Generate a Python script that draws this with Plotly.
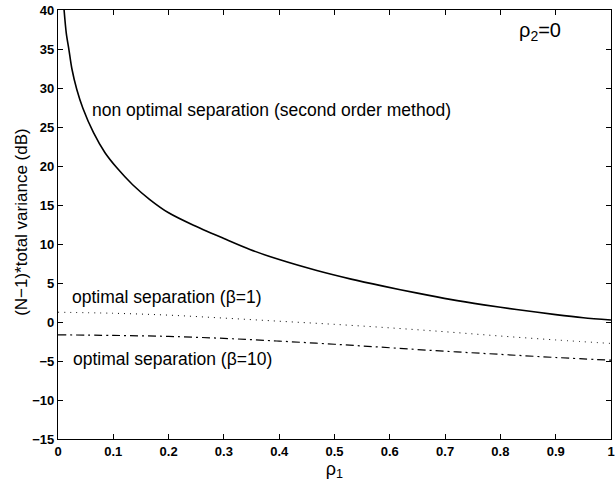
import plotly.graph_objects as go

# Data
rho1_nonopt = [0.011, 0.015, 0.02, 0.025, 0.034, 0.045, 0.064, 0.085, 0.106, 0.135,
               0.166, 0.2, 0.245, 0.3, 0.347, 0.4, 0.468, 0.53, 0.588, 0.65,
               0.709, 0.77, 0.829, 0.9, 0.95, 1.0]
var_nonopt = [40, 37.0, 34.8, 32.5, 29.8, 27.4, 24.3, 21.7, 19.8, 17.6,
              15.7, 14.0, 12.4, 10.7, 9.3, 8.0, 6.6, 5.5, 4.6, 3.7,
              2.9, 2.2, 1.6, 0.95, 0.55, 0.25]

rho1_opt = [0, 0.1, 0.2, 0.3, 0.4, 0.5, 0.6, 0.7, 0.8, 0.9, 1.0]
var_beta1 = [1.25, 1.12, 0.88, 0.5, 0.1, -0.3, -0.75, -1.25, -1.8, -2.3, -2.75]
var_beta10 = [-1.65, -1.72, -1.85, -2.1, -2.45, -2.85, -3.3, -3.75, -4.15, -4.55, -4.9]

x_ticks = [0, 0.1, 0.2, 0.3, 0.4, 0.5, 0.6, 0.7, 0.8, 0.9, 1]
x_ticklabels = ["0", "0.1", "0.2", "0.3", "0.4", "0.5", "0.6", "0.7", "0.8", "0.9", "1"]
y_ticks = [40, 35, 30, 25, 20, 15, 10, 5, 0, -5, -10, -15]
y_ticklabels = ["40", "35", "30", "25", "20", "15", "10", "5", "0", "\u22125", "\u221210", "\u221215"]

FONT = "Liberation Sans, Arial, Helvetica, sans-serif"

fig = go.Figure()
fig.add_trace(go.Scatter(x=rho1_nonopt, y=var_nonopt, mode="lines",
                         line=dict(color="black", width=1.6, shape="spline", smoothing=0.8),
                         showlegend=False))
fig.add_trace(go.Scatter(x=rho1_opt, y=var_beta1, mode="lines",
                         line=dict(color="black", width=1, dash="1px,5px", shape="spline"),
                         showlegend=False))
fig.add_trace(go.Scatter(x=rho1_opt, y=var_beta10, mode="lines",
                         line=dict(color="black", width=1.2, dash="8px,4px,2px,4px", shape="spline"),
                         showlegend=False))

ann_font = dict(family=FONT, size=17.5, color="black")
fig.add_annotation(x=0.058, y=27.2, text="non optimal separation (second order method)",
                   showarrow=False, xanchor="left", yanchor="middle", font=ann_font)
fig.add_annotation(x=0.022, y=3.2, text="optimal separation (\u03b2=1)",
                   showarrow=False, xanchor="left", yanchor="middle", font=ann_font)
fig.add_annotation(x=0.024, y=-4.8, text="optimal separation (\u03b2=10)",
                   showarrow=False, xanchor="left", yanchor="middle", font=ann_font)
fig.add_annotation(x=0.83, y=37.2, text="\u03c1<sub>2</sub>=0",
                   showarrow=False, xanchor="left", yanchor="middle",
                   font=dict(family=FONT, size=20, color="black"))
# y-axis title
fig.add_annotation(xref="paper", yref="paper", x=-0.066, y=0.505,
                   text="(N\u22121)*total variance (dB)", textangle=-90,
                   showarrow=False, xanchor="center", yanchor="middle",
                   font=dict(family=FONT, size=17, color="black"))

axis_common = dict(showline=True, linecolor="black", linewidth=1.2, mirror="ticks",
                   ticks="inside", ticklen=5, tickcolor="black", tickwidth=1,
                   showgrid=False, zeroline=False, automargin=False,
                   ticklabeloverflow="allow",
                   tickfont=dict(family=FONT, size=13, color="black", weight="bold"))

fig.update_layout(
    width=615, height=485,
    margin=dict(l=58, r=4, t=10, b=46),
    paper_bgcolor="white", plot_bgcolor="white",
    xaxis=dict(range=[0, 1], tickvals=x_ticks, ticktext=x_ticklabels,
               title=dict(text="\u03c1<sub>1</sub>", standoff=0,
                          font=dict(family=FONT, size=18, color="black")),
               **axis_common),
    yaxis=dict(range=[-15, 40], tickvals=y_ticks, ticktext=y_ticklabels,
               **axis_common),
)

fig.write_html("out.html", config={"displayModeBar": False},
               post_script="document.body.style.margin='0';document.body.style.overflow='hidden';")
